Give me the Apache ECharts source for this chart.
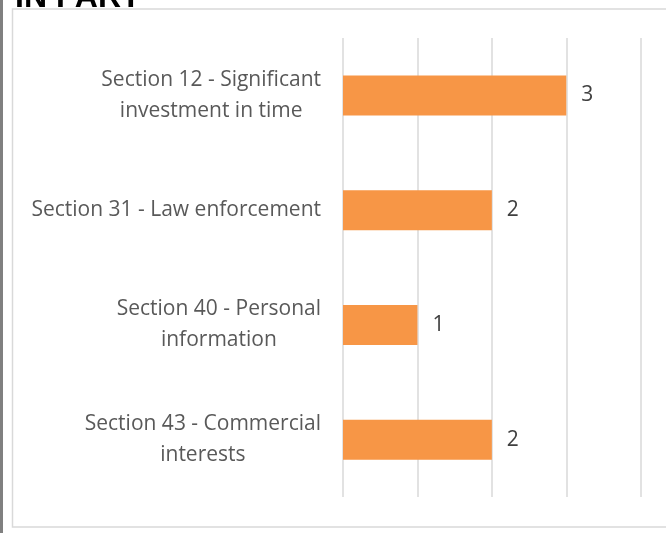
<!DOCTYPE html>
<html>
<head>
<meta charset="utf-8">
<script src="https://cdn.jsdelivr.net/npm/echarts@6/dist/echarts.min.js"></script>
<style>
  html, body { margin: 0; padding: 0; background: #fff; }
  #chart { width: 666px; height: 533px; }
</style>
</head>
<body>
<div id="chart"></div>
<script>
// chart data
var categories = [
    'Section 12 - Significant\ninvestment in time',
    'Section 31 - Law enforcement',
    'Section 40 - Personal\ninformation',
    'Section 43 - Commercial\ninterests'
];
var counts = [3, 2, 1, 2];
var titleText = 'IN PART';

var myChart = echarts.init(document.getElementById('chart'));

myChart.setOption({
    animation: false,
    title: {
        text: titleText,
        left: 10,
        top: -23,
        textStyle: {
            fontFamily: 'Liberation Sans',
            fontWeight: 'bold',
            fontSize: 32,
            color: '#000'
        }
    },
    graphic: [
        {
            // left page edge line
            type: 'rect',
            shape: { x: 0, y: 0, width: 3, height: 533 },
            style: { fill: '#808080' },
            silent: true
        },
        {
            // chart area border
            type: 'rect',
            shape: { x: 12.5, y: 9, width: 700, height: 518 },
            style: { fill: 'none', stroke: '#d9d9d9', lineWidth: 1.5 },
            silent: true
        }
    ],
    grid: {
        left: 343,
        right: 25.3,
        top: 38,
        bottom: 36,
        containLabel: false
    },
    xAxis: {
        type: 'value',
        min: 0,
        max: 4,
        interval: 1,
        axisLine: { show: false },
        axisTick: { show: false },
        axisLabel: { show: false },
        splitLine: { lineStyle: { color: '#d9d9d9', width: 1.5 } }
    },
    yAxis: {
        type: 'category',
        inverse: true,
        data: categories,
        axisLine: { show: false },
        axisTick: { show: false },
        axisLabel: {
            margin: 22,
            formatter: function (value) {
                return value.split('\n').map(function (s) {
                    return '{c|' + s + '}';
                }).join('\n');
            },
            rich: {
                c: {
                    align: 'center',
                    fontFamily: 'Open Sans',
                    fontSize: 21,
                    lineHeight: 31,
                    color: '#595959'
                }
            }
        }
    },
    series: [
        {
            type: 'bar',
            data: counts,
            barWidth: 40,
            itemStyle: { color: '#F79646' },
            label: {
                show: true,
                position: 'right',
                distance: 15,
                fontFamily: 'Open Sans',
                fontSize: 21,
                color: '#404040'
            }
        }
    ]
});
</script>
</body>
</html>
